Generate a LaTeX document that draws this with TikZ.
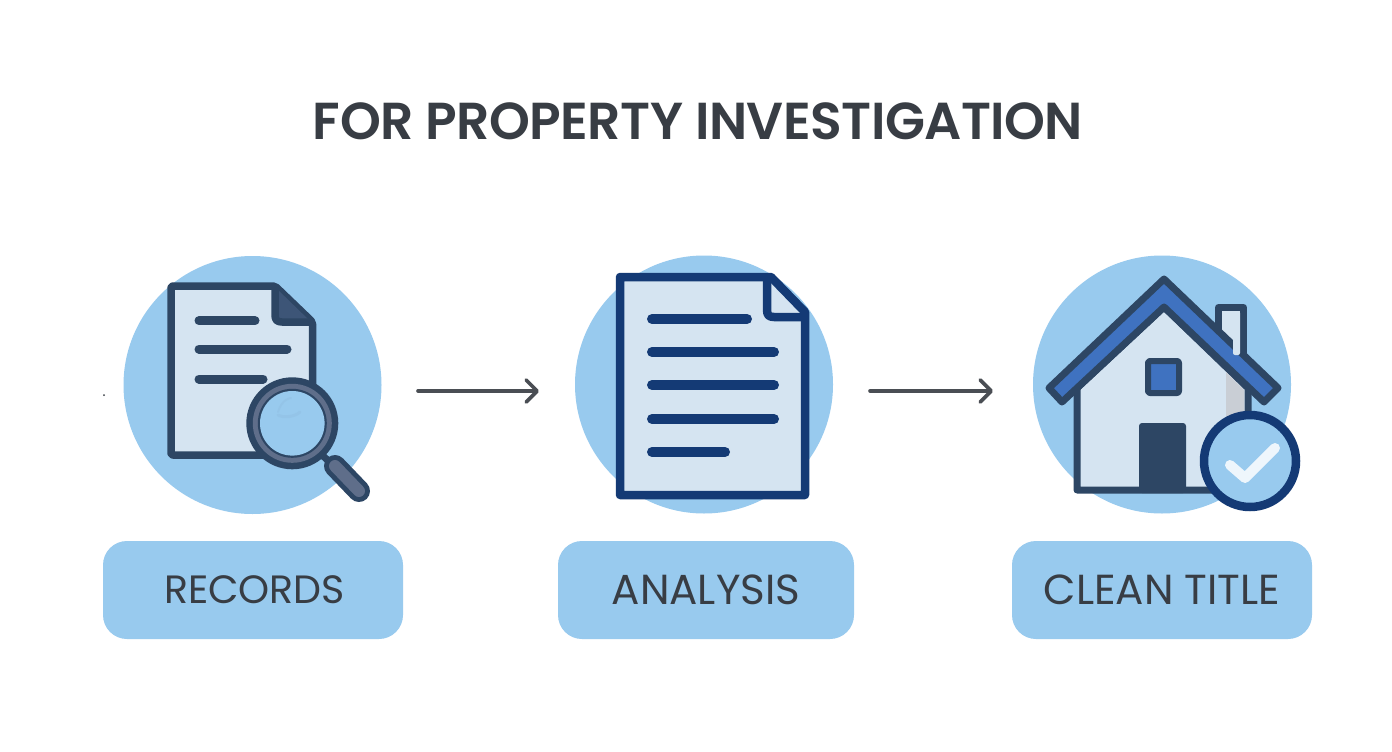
\documentclass[tikz,border=0pt]{standalone}
\usepackage{fontspec}
\setmainfont{Poppins}
\newfontfamily\titlefont[LetterSpace=-1.0]{Poppins SemiBold}
\usetikzlibrary{arrows.meta}
\definecolor{sky}{HTML}{98CAEE}
\definecolor{paper}{HTML}{D5E4F1}
\definecolor{slate}{HTML}{2D4664}
\definecolor{foldc}{HTML}{3D5577}
\definecolor{navy}{HTML}{143A75}
\definecolor{roofc}{HTML}{3F72C0}
\definecolor{greyr}{HTML}{5F6E8A}
\definecolor{ink}{HTML}{383D44}
\definecolor{arrowc}{HTML}{4A4E54}
\definecolor{wallgrey}{HTML}{C9CED5}
\definecolor{smudge}{HTML}{8DBBDD}
\definecolor{tick}{HTML}{EEF6FC}
\tikzset{
  disc/.style={circle,fill=sky,draw=none,minimum size=258pt,inner sep=0pt},
  label box/.style={rectangle,rounded corners=24pt,fill=sky,draw=none,minimum height=98pt,inner sep=0pt,text=ink},
  flow/.style={draw=arrowc,line width=3.6pt,line cap=round,-{Straight Barb[round,length=11pt,width=22pt,line width=3.6pt]}},
  rowa/.style={draw=slate,line width=9pt,line cap=round},
  rowb/.style={draw=navy,line width=10pt,line cap=round},
  wall/.style={draw=slate,line width=7pt,line join=round}
}
\begin{document}
\begin{tikzpicture}[x=1pt,y=-1pt]
\useasboundingbox (0,0) rectangle (1392,752);
\fill[white] (0,0) rectangle (1392,752);
\node[text=ink,font=\fontsize{52pt}{56pt}\titlefont] (title) at (698,121) {FOR PROPERTY INVESTIGATION};
% discs
\node[disc] (d1) at (252.5,385) {};
\node[disc] (d2) at (704,384.5) {};
\node[disc] (d3) at (1162,384.5) {};
% icon 1
\draw[wall,line width=7.5pt,fill=paper,rounded corners=2pt] (171,286) -- (275,286) -- (312.5,322) -- (312.5,455) -- (171,455) -- cycle;
\fill[foldc] (276,288) -- (311,322) -- (281,322) -- (276,318) -- cycle;
\draw[wall,line width=7.5pt] (275,286) -- (275,315) .. controls (275,320) and (277,322) .. (282,322) -- (312,322);
\draw[rowa] (199,320.7) -- (255,320.7);
\draw[rowa] (199,349) -- (287,349);
\draw[rowa] (199,379) -- (263,379);
\draw[slate,line width=7pt] (322,455) -- (335,467);
\draw[slate,line width=22pt,line cap=round] (335,466) -- (359,491);
\draw[greyr,line width=12pt,line cap=round] (335,466) -- (359,491);
\fill[slate] (292.3,423.3) circle[radius=46];
\fill[greyr] (292.3,423.3) circle[radius=39.5];
\fill[slate] (292.3,423.3) circle[radius=34.5];
\fill[sky] (292.3,423.3) circle[radius=32.3];
\draw[smudge,line width=2pt,line cap=round,opacity=.35] (278,412) .. controls (282,399) and (290,398) .. (291,398);
\draw[smudge,line width=3pt,line cap=round,opacity=.35] (278,415) .. controls (283,418) and (295,417) .. (300,412);
% icon 2
\draw[navy,line width=8.5pt,line join=round,fill=paper] (620,277) -- (771,277) -- (805,312) -- (805,495) -- (620,495) -- cycle;
\draw[navy,line width=8.5pt,line join=round] (767,277) -- (767,310) .. controls (767,315) and (769,317) .. (774,317) -- (805,317);
\draw[rowb] (652,319) -- (747,319);
\draw[rowb] (652,352) -- (774,352);
\draw[rowb] (652,385) -- (774,385);
\draw[rowb] (652,419) -- (774,419);
\draw[rowb] (652,452) -- (725,452);
% icon 3
\draw[wall,fill=paper] (1218.5,307.5) rectangle (1243.5,356);
\draw[wall,fill=paper] (1077,388) -- (1164,307) -- (1248,388) -- (1248,490) -- (1077,490) -- cycle;
\fill[wallgrey] (1226,372) -- (1244,390) -- (1244,416) -- (1226,416) -- cycle;
\draw[wall,fill=roofc] (1164,279) -- (1278,388) -- (1264,402) -- (1164,307) -- (1062,402) -- (1049,388) -- cycle;
\fill[paper,rounded corners=2pt] (1233,311) rectangle (1240,355);
\fill[paper] (1222,311) -- (1233,311) -- (1233,331) -- (1222,320) -- cycle;
\draw[wall,line width=6pt,fill=roofc,rounded corners=2pt] (1148,361) rectangle (1179,393);
\fill[slate,rounded corners=3pt] (1139,423) rectangle (1186,493);
\fill[sky] (1250,461) circle[radius=46];
\draw[navy,line width=8.5pt] (1250,461) circle[radius=46];
\draw[tick,line width=10pt,line cap=round,line join=round] (1230,465) -- (1245,478) -- (1275,448);
% labels
\node[label box,minimum width=300pt,font=\fontsize{39.5pt}{44pt}\selectfont] (l1) at (253,590) {\hspace*{3pt}\raisebox{-1pt}{RECORDS}};
\node[label box,minimum width=296pt,font=\fontsize{42pt}{46pt}\selectfont] (l2) at (706,590) {\raisebox{-1pt}{ANALYSIS}};
\node[label box,minimum width=300pt,font=\fontsize{42pt}{46pt}\selectfont] (l3) at (1162,590) {\raisebox{-1pt}{CLEAN TITLE}};
% arrows
\coordinate (a1s) at (418,391); \coordinate (a1e) at (539,391);
\coordinate (a2s) at (870,391); \coordinate (a2e) at (993,391);
\draw[flow] (a1s) -- (a1e);
\draw[flow] (a2s) -- (a2e);
\fill[ink] (104,395) circle[radius=1];
\end{tikzpicture}
\end{document}
